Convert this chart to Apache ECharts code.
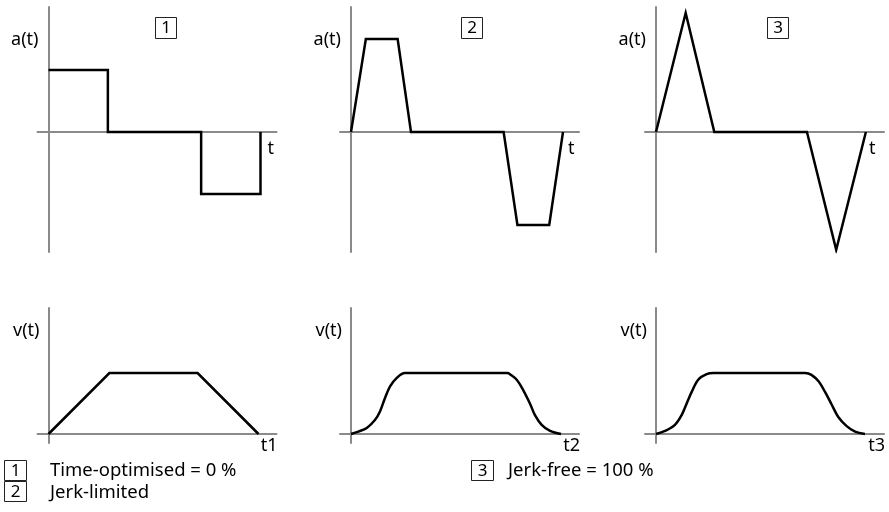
<!DOCTYPE html>
<html>
<head>
<meta charset="utf-8">
<script src="https://cdn.jsdelivr.net/npm/echarts@6/dist/echarts.min.js"></script>
<style>
  html, body { margin: 0; padding: 0; background: #fff; }
  #chart { width: 889px; height: 512px; }
</style>
</head>
<body>
<div id="chart"></div>
<script>
// acceleration profiles a(t), time 0..10
const accelTimeOpt = [[0, 1], [2.8, 1], [2.8, 0], [7.2, 0], [7.2, -1], [10, -1], [10, 0]];
const accelJerkLim = [[0, 0], [0.7, 1.5], [2.2, 1.5], [2.83, 0], [7.2, 0], [7.85, -1.5], [9.35, -1.5], [10, 0]];
const accelJerkFree = [[0, 0], [1.4, 1.92], [2.75, 0], [7.12, 0], [8.5, -1.9], [9.9, 0]];

// velocity profiles v(t)
const velTimeOpt = [[0, 0], [2.9, 1], [7.1, 1], [10, 0]];
const velJerkLim = [[0, 0], [0.35, 0.04], [0.75, 0.1], [1.14, 0.23], [1.38, 0.37], [1.62, 0.59], [1.86, 0.78],
  [2.18, 0.92], [2.57, 1], [7.45, 1], [7.57, 0.98], [7.89, 0.89], [8.2, 0.72], [8.52, 0.5], [8.76, 0.31],
  [9.08, 0.15], [9.48, 0.05], [10, 0]];
const velJerkFree = [[0, 0], [0.43, 0.05], [0.9, 0.15], [1.22, 0.31], [1.46, 0.5], [1.7, 0.69], [2.01, 0.89],
  [2.41, 0.98], [2.73, 1], [7.1, 1], [7.4, 0.97], [7.75, 0.86], [8.05, 0.69], [8.37, 0.48], [8.68, 0.28],
  [9.08, 0.13], [9.48, 0.04], [9.95, 0]];

const topLabels = ['a(t)', 'a(t)', 'a(t)'];
const bottomLabels = ['v(t)', 'v(t)', 'v(t)'];
const timeLabels = ['t', 't', 't'];
const endLabels = ['t1', 't2', 't3'];
const panelNumbers = ['1', '2', '3'];
const legendItems = ['Time-optimised = 0 %', 'Jerk-limited', 'Jerk-free = 100 %'];

const chart = echarts.init(document.getElementById('chart'));

const FONT = '"Noto Sans", "Open Sans", sans-serif';
const axisColor = '#8a8a8a';
const originX = [48.5, 351, 656];

// panel frames: origin in px, px per unit
const rows = [
  { top: 7, bottom: 252, oy: 132, sx: 21.2, sy: 62, data: [accelTimeOpt, accelJerkLim, accelJerkFree], smooth: [false, false, false] },
  { top: 308, bottom: 443, oy: 434, sx: 21, sy: 61, data: [velTimeOpt, velJerkLim, velJerkFree], smooth: [false, 0.35, 0.35] }
];

const grids = [], xAxes = [], yAxes = [], series = [];
rows.forEach((r, ri) => {
  originX.forEach((ox, ci) => {
    const left = ox - 11, right = ox + 228;
    grids.push({ left: left, top: r.top, width: right - left, height: r.bottom - r.top });
    const idx = grids.length - 1;
    xAxes.push({
      gridIndex: idx, type: 'value',
      min: (left - ox) / r.sx, max: (right - ox) / r.sx,
      axisLine: { onZero: true, lineStyle: { color: axisColor, width: 2 } },
      axisTick: { show: false }, axisLabel: { show: false }, splitLine: { show: false }
    });
    yAxes.push({
      gridIndex: idx, type: 'value',
      min: (r.oy - r.bottom) / r.sy, max: (r.oy - r.top) / r.sy,
      axisLine: { onZero: true, lineStyle: { color: axisColor, width: 2 } },
      axisTick: { show: false }, axisLabel: { show: false }, splitLine: { show: false }
    });
    series.push({
      type: 'line', xAxisIndex: idx, yAxisIndex: idx,
      data: r.data[ci], showSymbol: false, smooth: r.smooth[ci],
      lineStyle: { color: '#000', width: 2.5, join: 'miter' },
      silent: true, animation: false
    });
  });
});

function txt(text, x, y, align, size) {
  return {
    type: 'text', x: x, y: y,
    style: { text: text, fill: '#000', font: (size || 18) + 'px ' + FONT, textAlign: align, textVerticalAlign: 'middle' }
  };
}
function boxed(num, x, y, w, h) {
  return {
    type: 'group', children: [
      { type: 'rect', shape: { x: x + 0.5, y: y + 0.5, width: w, height: h }, style: { fill: 'none', stroke: '#222', lineWidth: 1 } },
      txt(num, x + w / 2 + 0.5, y + h / 2 + 1, 'center', 17)
    ]
  };
}

const graphics = [];
const tOffsets = [219, 217, 213];
const boxX = [155, 461, 767];
originX.forEach((ox, i) => {
  graphics.push(txt(topLabels[i], ox - 10, 39.5, 'right'));
  graphics.push(txt(timeLabels[i], ox + tOffsets[i], 149, 'left'));
  graphics.push(boxed(panelNumbers[i], boxX[i], 17, 21, 21));
  graphics.push(txt(bottomLabels[i], ox - 9, 331, 'right'));
  graphics.push(txt(endLabels[i], ox + 229, 446, 'right'));
});
// key below the charts
graphics.push(boxed('1', 4, 460, 22, 20));
graphics.push(txt(legendItems[0], 50, 471, 'left', 18.5));
graphics.push(boxed('2', 4, 481, 22, 20));
graphics.push(txt(legendItems[1], 50, 493, 'left', 18.5));
graphics.push(boxed('3', 471, 460, 22, 20));
graphics.push(txt(legendItems[2], 508, 471, 'left', 18.5));

chart.setOption({
  animation: false,
  backgroundColor: '#fff',
  grid: grids,
  xAxis: xAxes,
  yAxis: yAxes,
  series: series,
  graphic: graphics
});
</script>
</body>
</html>
